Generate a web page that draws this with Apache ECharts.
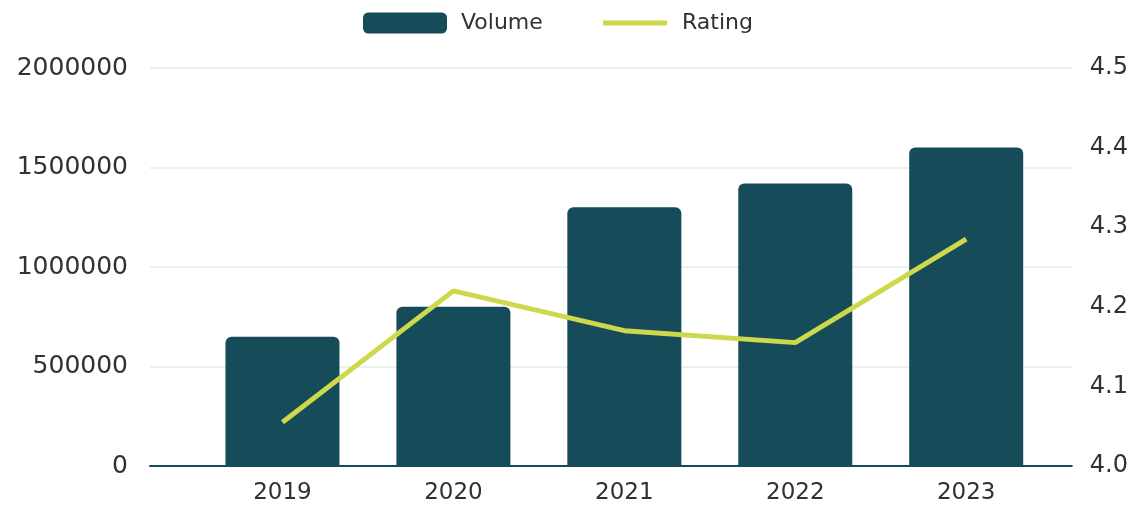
<!DOCTYPE html>
<html>
<head>
<meta charset="utf-8">
<script src="https://cdn.jsdelivr.net/npm/echarts@6/dist/echarts.min.js"></script>
<style>
html,body{margin:0;padding:0;background:#fff;}
#chart{width:1131px;height:506px;}
</style>
</head>
<body>
<div id="chart"></div>
<script>
const categories = ['2019', '2020', '2021', '2022', '2023'];
const volume = [650000, 800000, 1300000, 1420000, 1600000];
const rating = [4.055, 4.22, 4.17, 4.155, 4.285];
const volumeTicks = [0, 500000, 1000000, 1500000, 2000000];
const ratingTicks = [4.0, 4.1, 4.2, 4.3, 4.4, 4.5];

const FONT = 'DejaVu Sans';
const TEXT = '#2f3133';
const idx = categories.map((c, i) => i);

const chart = echarts.init(document.getElementById('chart'), null, {renderer: 'canvas'});
chart.setOption({
  animation: false,
  textStyle: {fontFamily: FONT},
  legend: [
    {
      top: 7,
      left: 358,
      itemWidth: 84,
      itemHeight: 21,
      textStyle: {fontFamily: FONT, fontSize: 22, color: TEXT, padding: [0, 0, 0, 9]},
      data: ['Volume']
    },
    {
      top: 7,
      left: 598,
      itemWidth: 64,
      itemHeight: 21,
      icon: 'path://M0,8 L64,8 L64,13 L0,13 Z',
      textStyle: {fontFamily: FONT, fontSize: 22, color: TEXT, padding: [0, 0, 0, 10]},
      data: ['Rating']
    }
  ],
  grid: {left: 150, right: 59, top: 68, bottom: 40, containLabel: false},
  xAxis: {
    type: 'value',
    min: -0.775,
    max: 4.618,
    axisLine: {show: true, onZero: false, lineStyle: {color: '#164b5a', width: 2}},
    axisTick: {show: false},
    splitLine: {show: false},
    axisLabel: {
      customValues: idx,
      formatter: v => categories[Math.round(v)],
      fontFamily: FONT, fontSize: 23, color: TEXT, margin: 16
    }
  },
  yAxis: [
    {
      type: 'value', min: 0, max: 2000000, interval: 500000,
      axisLine: {show: false}, axisTick: {show: false},
      splitLine: {lineStyle: {color: '#dff0dc', width: 1.5}},
      axisLabel: {fontFamily: FONT, fontSize: 25, color: TEXT, margin: 22, formatter: v => String(v)}
    },
    {
      type: 'value', min: 4.0, max: 4.5, interval: 0.1,
      axisLine: {show: false}, axisTick: {show: false},
      splitLine: {show: false},
      axisLabel: {fontFamily: FONT, fontSize: 24, color: TEXT, margin: 18, formatter: v => v.toFixed(1)}
    }
  ],
  series: [
    {
      name: 'Volume', type: 'bar', yAxisIndex: 0,
      barWidth: 114,
      itemStyle: {color: '#164b5a', borderRadius: [6, 6, 0, 0]},
      data: volume.map((v, i) => [i, v])
    },
    {
      name: 'Rating', type: 'line', yAxisIndex: 1,
      symbol: 'none', smooth: false,
      lineStyle: {color: '#cdd94a', width: 5},
      itemStyle: {color: '#cdd94a'},
      data: rating.map((v, i) => [i, v])
    }
  ]
});
</script>
</body>
</html>
